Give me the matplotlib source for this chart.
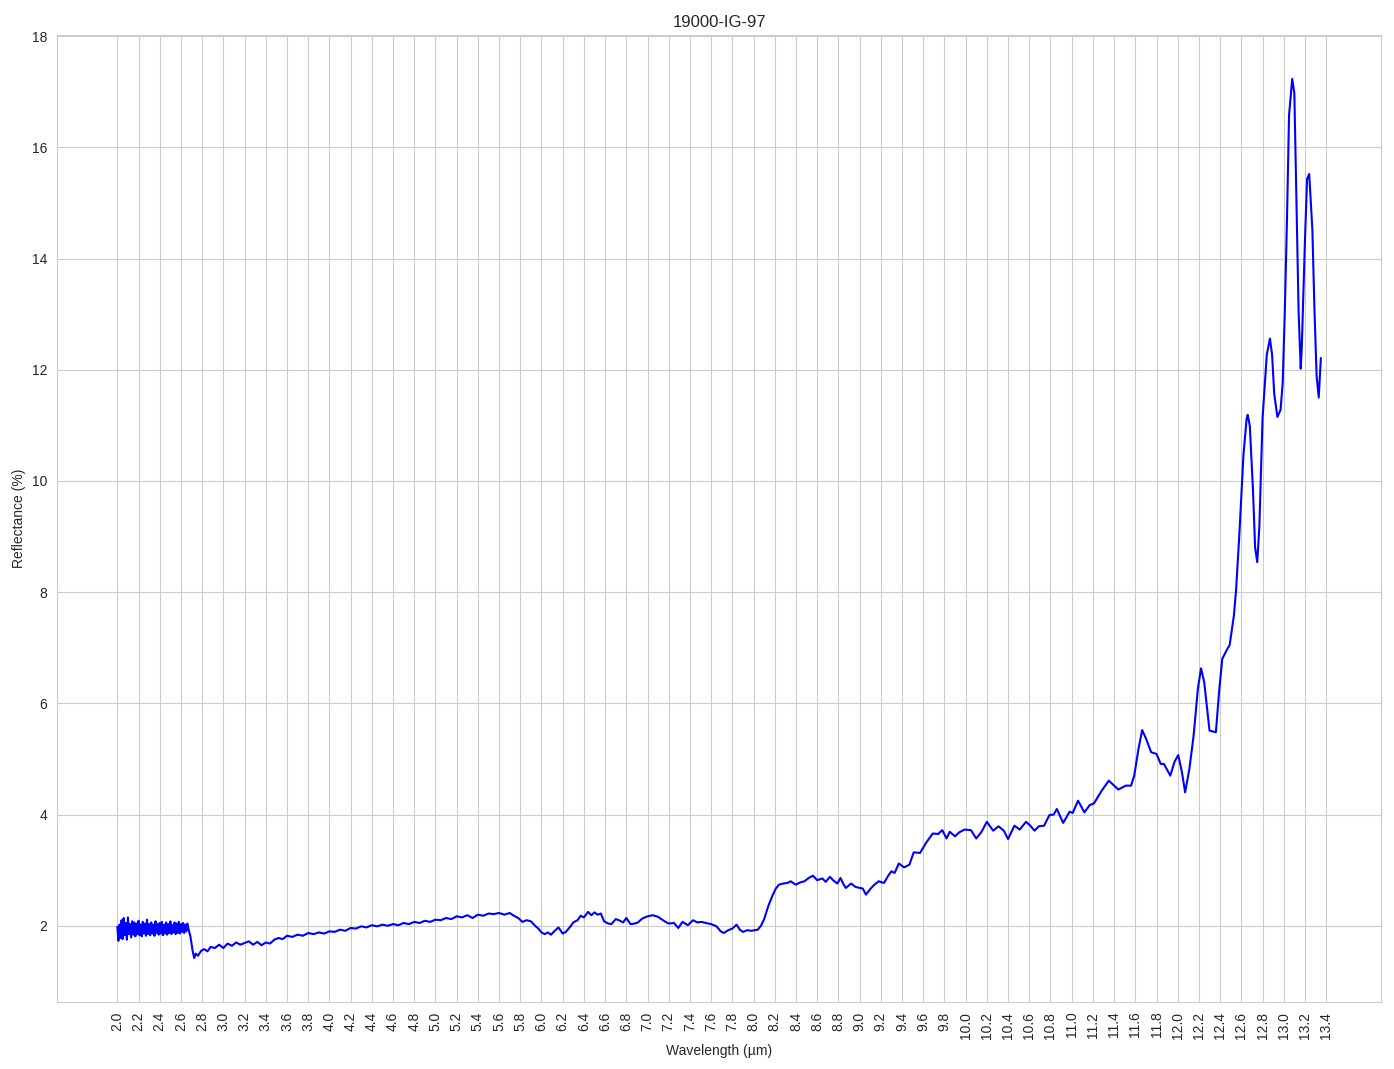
import numpy as np
import matplotlib
matplotlib.use("Agg")
import matplotlib.pyplot as plt
import seaborn as sns

# noisy detector band at the start of the scan
noisy_wl = [2.00, 2.01, 2.02, 2.03, 2.04, 2.05, 2.06, 2.07, 2.08, 2.09,
            2.10, 2.11, 2.12, 2.13, 2.14, 2.15, 2.16, 2.17, 2.18, 2.19,
            2.20, 2.21, 2.22, 2.23, 2.24, 2.25, 2.26, 2.27, 2.28, 2.29,
            2.30, 2.31, 2.32, 2.33, 2.34, 2.35, 2.36, 2.37, 2.38, 2.39,
            2.40, 2.41, 2.42, 2.43, 2.44, 2.45, 2.46, 2.47, 2.48, 2.49,
            2.50, 2.51, 2.52, 2.53, 2.54, 2.55, 2.56, 2.57, 2.58, 2.59,
            2.60, 2.61, 2.62, 2.63, 2.64, 2.65, 2.66, 2.67]
noisy_refl = [1.98, 1.73, 2.02, 1.78, 2.10, 1.76, 2.14, 1.83, 2.05, 1.75,
              2.15, 1.85, 2.03, 1.79, 2.08, 1.84, 2.06, 1.81, 2.04, 1.85,
              2.09, 1.83, 2.02, 1.81, 2.07, 1.86, 2.04, 1.82, 2.11, 1.85,
              2.03, 1.83, 2.06, 1.86, 2.02, 1.82, 2.08, 1.87, 2.03, 1.84,
              2.05, 1.86, 2.07, 1.83, 2.02, 1.86, 2.06, 1.84, 2.03, 1.87,
              2.08, 1.85, 2.01, 1.88, 2.06, 1.85, 2.04, 1.87, 2.07, 1.86,
              2.03, 1.89, 2.05, 1.87, 2.02, 1.90, 2.04, 1.95]

# rest of the spectrum
smooth_wl = [2.69, 2.71, 2.725, 2.74, 2.76, 2.79, 2.82, 2.85, 2.88, 2.92,
             2.96, 3.00, 3.04, 3.08, 3.12, 3.16, 3.20, 3.24, 3.28, 3.32,
             3.36, 3.40, 3.44, 3.48, 3.52, 3.56, 3.60, 3.65, 3.70, 3.75,
             3.80, 3.85, 3.90, 3.95, 4.00, 4.05, 4.10, 4.15, 4.20, 4.25,
             4.30, 4.35, 4.40, 4.45, 4.50, 4.55, 4.60, 4.65, 4.70, 4.75,
             4.80, 4.85, 4.90, 4.95, 5.00, 5.05, 5.10, 5.15, 5.20, 5.25,
             5.30, 5.35, 5.40, 5.45, 5.50, 5.55, 5.60, 5.65, 5.70, 5.74,
             5.78, 5.82, 5.86, 5.90, 5.94, 5.97, 6.00, 6.03, 6.06, 6.09,
             6.12, 6.16, 6.20, 6.23, 6.27, 6.30, 6.34, 6.37, 6.40, 6.44,
             6.47, 6.50, 6.53, 6.56, 6.59, 6.63, 6.66, 6.70, 6.73, 6.77,
             6.80, 6.84, 6.88, 6.91, 6.95, 7.00, 7.05, 7.10, 7.13, 7.17,
             7.20, 7.25, 7.29, 7.33, 7.38, 7.43, 7.47, 7.51, 7.55, 7.60,
             7.65, 7.69, 7.72, 7.76, 7.80, 7.84, 7.87, 7.90, 7.94, 7.98,
             8.04, 8.07, 8.10, 8.14, 8.18, 8.21, 8.24, 8.28, 8.32, 8.35,
             8.38, 8.40, 8.44, 8.48, 8.52, 8.56, 8.60, 8.63, 8.65, 8.68,
             8.72, 8.75, 8.79, 8.82, 8.85, 8.87, 8.92, 8.96, 9.00, 9.03,
             9.06, 9.10, 9.14, 9.18, 9.23, 9.27, 9.30, 9.33, 9.37, 9.42,
             9.47, 9.51, 9.57, 9.63, 9.69, 9.74, 9.78, 9.82, 9.85, 9.90,
             9.94, 9.99, 10.05, 10.10, 10.15, 10.20, 10.26, 10.31, 10.36, 10.40,
             10.46, 10.51, 10.57, 10.61, 10.65, 10.69, 10.74, 10.79, 10.83, 10.86,
             10.92, 10.98, 11.01, 11.06, 11.12, 11.17, 11.21, 11.28, 11.35, 11.40,
             11.44, 11.51, 11.56, 11.59, 11.63, 11.665, 11.70, 11.75, 11.80, 11.84,
             11.87, 11.93, 11.97, 12.005, 12.04, 12.07, 12.11, 12.15, 12.19, 12.22,
             12.25, 12.30, 12.34, 12.36, 12.39, 12.42, 12.46, 12.49, 12.53, 12.55,
             12.58, 12.62, 12.65, 12.66, 12.68, 12.71, 12.73, 12.75, 12.77, 12.80,
             12.84, 12.87, 12.89, 12.91, 12.94, 12.97, 12.99, 13.01, 13.03, 13.05,
             13.08, 13.10, 13.12, 13.14, 13.16, 13.17, 13.20, 13.22, 13.24, 13.27,
             13.29, 13.31, 13.33, 13.35]
smooth_refl = [1.80, 1.55, 1.42, 1.50, 1.46, 1.55, 1.58, 1.54, 1.62, 1.60,
               1.66, 1.60, 1.68, 1.64, 1.70, 1.66, 1.69, 1.72, 1.66, 1.71,
               1.65, 1.70, 1.68, 1.75, 1.78, 1.76, 1.82, 1.80, 1.84, 1.82,
               1.87, 1.85, 1.88, 1.86, 1.90, 1.89, 1.93, 1.91, 1.96, 1.95,
               1.99, 1.97, 2.01, 1.99, 2.02, 2.00, 2.03, 2.01, 2.05, 2.03,
               2.07, 2.05, 2.09, 2.07, 2.11, 2.10, 2.14, 2.12, 2.17, 2.15,
               2.19, 2.14, 2.20, 2.18, 2.22, 2.21, 2.23, 2.20, 2.23, 2.18,
               2.14, 2.07, 2.10, 2.08, 2.00, 1.95, 1.88, 1.85, 1.88, 1.84,
               1.90, 1.97, 1.86, 1.89, 1.98, 2.06, 2.10, 2.18, 2.15, 2.25,
               2.19, 2.24, 2.20, 2.22, 2.08, 2.04, 2.03, 2.12, 2.10, 2.06,
               2.14, 2.03, 2.04, 2.06, 2.13, 2.17, 2.19, 2.16, 2.12, 2.07,
               2.04, 2.05, 1.96, 2.07, 2.01, 2.10, 2.06, 2.07, 2.05, 2.03,
               1.99, 1.90, 1.87, 1.92, 1.95, 2.02, 1.93, 1.89, 1.92, 1.91,
               1.93, 2.00, 2.12, 2.36, 2.55, 2.67, 2.74, 2.76, 2.77, 2.80,
               2.76, 2.74, 2.78, 2.80, 2.86, 2.90, 2.82, 2.84, 2.85, 2.79,
               2.88, 2.82, 2.76, 2.86, 2.74, 2.68, 2.76, 2.70, 2.68, 2.67,
               2.56, 2.66, 2.74, 2.80, 2.77, 2.90, 2.98, 2.95, 3.12, 3.05,
               3.10, 3.32, 3.31, 3.50, 3.66, 3.65, 3.72, 3.57, 3.69, 3.61,
               3.68, 3.73, 3.72, 3.57, 3.69, 3.87, 3.71, 3.79, 3.71, 3.56,
               3.80, 3.73, 3.87, 3.80, 3.71, 3.79, 3.80, 3.99, 4.00, 4.10,
               3.85, 4.05, 4.03, 4.25, 4.04, 4.17, 4.20, 4.42, 4.61, 4.52,
               4.45, 4.52, 4.52, 4.70, 5.18, 5.52, 5.37, 5.12, 5.09, 4.91,
               4.91, 4.70, 4.95, 5.07, 4.76, 4.40, 4.82, 5.42, 6.26, 6.63,
               6.38, 5.51, 5.49, 5.48, 6.20, 6.80, 6.95, 7.05, 7.58, 8.03,
               8.99, 10.47, 11.12, 11.19, 10.99, 9.83, 8.80, 8.54, 9.18, 11.12,
               12.27, 12.56, 12.27, 11.57, 11.15, 11.28, 11.76, 13.05, 14.66, 16.58,
               17.23, 16.97, 14.97, 13.05, 12.02, 12.40, 14.33, 15.43, 15.52, 14.52,
               13.05, 11.89, 11.50, 12.21]

wavelength = np.array(noisy_wl + smooth_wl)
reflectance = np.array(noisy_refl + smooth_refl)

sns.set_style("whitegrid")
plt.rcParams['font.family'] = ['Liberation Sans', 'DejaVu Sans']

fig, ax = plt.subplots(figsize=(13.94, 10.69), dpi=100)
fig.subplots_adjust(left=0.041, right=0.9907, top=0.9673, bottom=0.0627)

ax.plot(wavelength, reflectance, color='blue', linewidth=1.5)

ticks = np.arange(2.0, 13.41, 0.2)
ax.set_xticks(ticks)
ax.set_xticklabels([f"{t:.1f}" for t in ticks], rotation=90)

ax.set_title('19000-IG-97', fontsize=12)
ax.set_xlabel('Wavelength (µm)')
ax.set_ylabel('Reflectance (%)')

fig.savefig('out.png', dpi=100)
